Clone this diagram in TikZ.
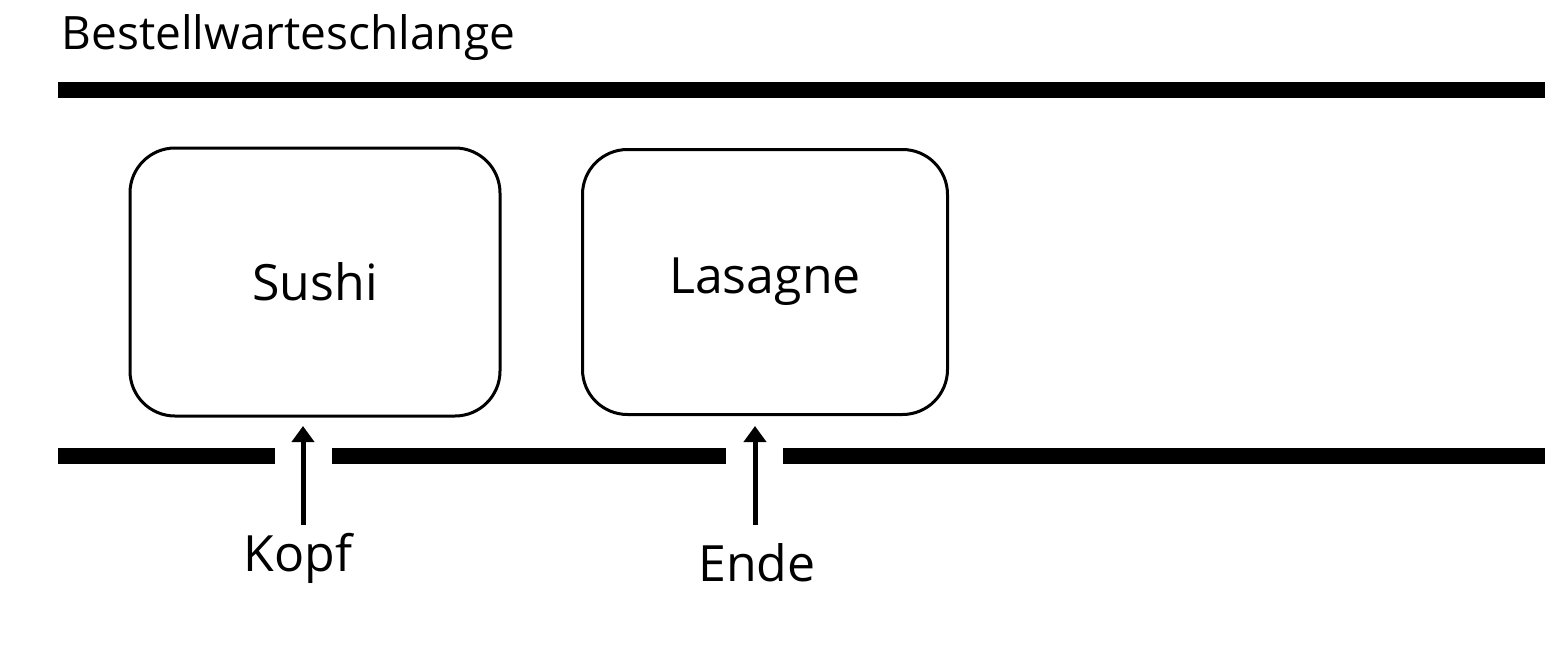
\documentclass[tikz,border=0pt]{standalone}
\usepackage{fontspec}
\setmainfont{Open Sans}
\usetikzlibrary{arrows.meta}
\begin{document}
\begin{tikzpicture}[x=1pt,y=-1pt,
  bar/.style={line width=16pt},
  item/.style={draw,line width=3pt,rounded corners=45pt,font=\fontsize{50}{60}\selectfont},
  lbl/.style={font=\fontsize{50}{60}\selectfont},
  ptr/.style={line width=5pt,-{Triangle[length=16pt,width=22pt]}}]
\useasboundingbox (0,0) rectangle (1556,672);
\node[font=\fontsize{46}{55}\selectfont,anchor=west] (title) at (58,38) {Bestellwarteschlange};
\draw[bar] (58,90) -- (1545,90);
\draw[bar] (58,456) -- (275,456);
\draw[bar] (332,456) -- (726,456);
\draw[bar] (783,456) -- (1545,456);
\node[item,minimum width=370pt,minimum height=268pt] (sushi) at (315,282) {Sushi};
\node[item,minimum width=365pt,minimum height=265pt] (lasagne) at (765,282) {Lasagne};
\node[lbl] (kopf) at (298,558) {Kopf};
\node[lbl] (ende) at (757,563) {Ende};
\coordinate (k) at (303,426);
\coordinate (e) at (755,426);
\draw[ptr] (303,525) -- (k);
\draw[ptr] (755,525) -- (e);
\end{tikzpicture}
\end{document}
